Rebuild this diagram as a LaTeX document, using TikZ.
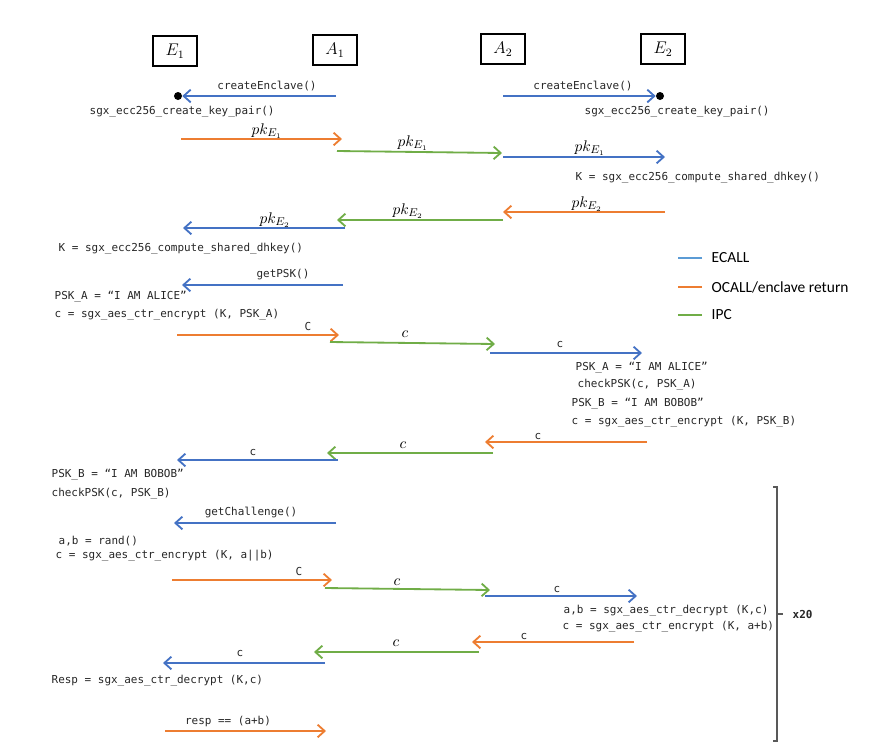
\documentclass[tikz,border=0pt]{standalone}
\usepackage{fontspec}
\newfontfamily\codefont{DejaVu Sans Mono}
\newfontfamily\legendfont{Carlito}
\usetikzlibrary{arrows.meta}
\definecolor{ecallblue}{HTML}{4472C4}
\definecolor{ocallorange}{HTML}{ED7D31}
\definecolor{ipcgreen}{HTML}{70AD47}
\definecolor{legblue}{HTML}{5B9BD5}

\begin{document}
\begin{tikzpicture}[x=0.025cm, y=-0.025cm,
    party/.style={draw, line width=1pt, minimum width=1.1cm, minimum height=0.75cm, font=\fontsize{11.5}{13}\selectfont},
    msg/.style={line width=1.3pt, -{Straight Barb[length=5pt,width=9pt]}},
    ecall/.style={msg, ecallblue},
    ocall/.style={msg, ocallorange},
    ipc/.style={msg, ipcgreen},
    tlbl/.style={font=\codefont\fontsize{7.8}{9}\selectfont, text=black!85, inner sep=1pt},
    mlbl/.style={font=\fontsize{11}{13}\selectfont, inner sep=1pt},
    code/.style={tlbl, anchor=west},
    legend/.style={font=\legendfont\fontsize{11}{13}\selectfont, anchor=west, inner sep=1pt},
    enclave/.style={circle, fill=black, minimum size=0.2cm, inner sep=0pt}]
    \useasboundingbox (0,0) rectangle (871,752);

    % Parties
    \node[party] (E1) at (175,51) {$E_1$};
    \node[party] (A1) at (335,50) {$A_1$};
    \node[party] (A2) at (503,49) {$A_2$};
    \node[party] (E2) at (663,49) {$E_2$};

    % Enclave creation
    \node[enclave] (en1) at (178,96) {};
    \node[enclave] (en2) at (660,96) {};
    \coordinate (ce1) at (336,96);
    \coordinate (ce2) at (503,96);
    \draw[ecall] (ce1) -- (en1);
    \draw[ecall] (ce2) -- (en2);
    \node[tlbl] (lce1) at (267,86) {createEnclave()};
    \node[tlbl] (lce2) at (583,86) {createEnclave()};

    % Messages
    \foreach \n/\kind/\xa/\ya/\xb/\yb/\lx/\ly/\ls/\lab in {
        3/ocall/181/139/342/139/267/131/mlbl/{$pk_{E_1}$},
        4/ipc/337/151/502/153/413/143/mlbl/{$pk_{E_1}$},
        5/ecall/503/157/665/157/590/148/mlbl/{$pk_{E_1}$},
        6/ocall/665/212/503/212/587/204/mlbl/{$pk_{E_2}$},
        7/ipc/503/220/337/220/408/211/mlbl/{$pk_{E_2}$},
        8/ecall/345/228/183/228/275/220/mlbl/{$pk_{E_2}$},
        9/ecall/343/285/182/285/283/275/tlbl/{getPSK()},
        10/ocall/177/335/339/335/308/326/tlbl/{C},
        11/ipc/330/342/495/344/405/334/mlbl/{$c$},
        12/ecall/490/353/642/353/560/344/tlbl/{c},
        13/ocall/647/442/485/442/538/436/tlbl/{c},
        14/ipc/493/453/327/453/403/445/mlbl/{$c$},
        15/ecall/338/460/177/460/253/452/tlbl/{c},
        16/ecall/336/523/174/523/251/512/tlbl/{getChallenge()},
        17/ocall/172/580/332/580/299/571/tlbl/{C},
        18/ipc/325/588/490/590/397/582/mlbl/{$c$},
        19/ecall/485/596/637/596/557/589/tlbl/{c},
        20/ocall/634/642/472/642/524/636/tlbl/{c},
        21/ipc/479/652/314/652/396/643/mlbl/{$c$},
        22/ecall/325/663/163/663/240/653/tlbl/{c},
        23/ocall/165/731/326/731/228/721/tlbl/{resp == (a+b)}} {
        \coordinate (s\n) at (\xa,\ya);
        \coordinate (t\n) at (\xb,\yb);
        \draw[\kind] (s\n) -- (t\n);
        \node[\ls] (l\n) at (\lx,\ly) {\lab};
    }

    % Enclave code
    \node[code] (kp1) at (88,112) {sgx\_ecc256\_create\_key\_pair()};
    \node[code] (kp2) at (583,112) {sgx\_ecc256\_create\_key\_pair()};
    \node[code] (dh2) at (574,178) {K = sgx\_ecc256\_compute\_shared\_dhkey()};
    \node[code] (dh1) at (57,249) {K = sgx\_ecc256\_compute\_shared\_dhkey()};
    \node[code] (pska1) at (53,297) {PSK\_A = “I AM ALICE”};
    \node[code] (enca) at (53,315) {c = sgx\_aes\_ctr\_encrypt (K, PSK\_A)};
    \node[code] (pska2) at (574,368) {PSK\_A = “I AM ALICE”};
    \node[code] (chka) at (576,385) {checkPSK(c, PSK\_A)};
    \node[code] (pskb2) at (570,404) {PSK\_B = “I AM BOBOB”};
    \node[code] (encb) at (570,422) {c = sgx\_aes\_ctr\_encrypt (K, PSK\_B)};
    \node[code] (pskb1) at (50,475) {PSK\_B = “I AM BOBOB”};
    \node[code] (chkb) at (50,494) {checkPSK(c, PSK\_B)};
    \node[code] (rnd) at (57,541) {a,b = rand()};
    \node[code] (encab) at (54,556) {c = sgx\_aes\_ctr\_encrypt (K, a||b)};
    \node[code] (dec2) at (562,611) {a,b = sgx\_aes\_ctr\_decrypt (K,c)};
    \node[code] (encs) at (561,627) {c = sgx\_aes\_ctr\_encrypt (K, a+b)};
    \node[code] (dec1) at (50,681) {Resp = sgx\_aes\_ctr\_decrypt (K,c)};

    % Legend
    \node[legend] (lgE) at (710,258) {ECALL};
    \node[legend] (lgO) at (710,287) {OCALL/enclave return};
    \node[legend] (lgI) at (710,315) {IPC};
    \draw[legblue, line width=1.4pt] (lgE.west) ++(-8,0) -- ++(-24,0);
    \draw[ocallorange, line width=1.4pt] (lgO.west) ++(-8,0) -- ++(-24,0);
    \draw[ipcgreen, line width=1.4pt] (lgI.west) ++(-8,0) -- ++(-24,0);

    % Repetition bracket
    \draw[black!65, line width=0.8pt] (773,487) -- (777,487) -- (777,741) -- (773,741);
    \draw[black!65, line width=0.8pt] (777,614) -- (783,614);
    \node[tlbl, anchor=west, font=\codefont\bfseries\fontsize{7.8}{9}\selectfont] (rep) at (791,614) {x20};
\end{tikzpicture}
\end{document}
